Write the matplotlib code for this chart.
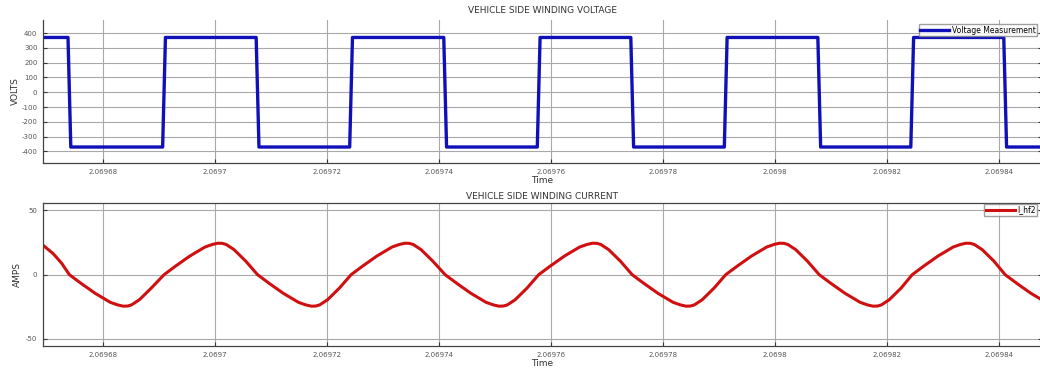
import numpy as np
import matplotlib
matplotlib.use("Agg")
import matplotlib.pyplot as plt

plt.rcParams["axes.unicode_minus"] = False

# time offsets in microseconds from t0
t0 = 2.06968
x_ticks = [2.06968, 2.0697, 2.06972, 2.06974, 2.06976, 2.06978, 2.0698, 2.06982, 2.06984]
x_tick_labels = ["2.06968", "2.0697", "2.06972", "2.06974", "2.06976", "2.06978", "2.0698", "2.06982", "2.06984"]

# voltage: switching instants (us) and levels (V)
v_edges_us = [-6.0, 10.9, 27.6, 44.3, 61.1, 77.8, 94.5, 111.2, 127.9, 144.5, 161.1]
v_high = 370
v_low = -370
v_start = v_high  # level before the first edge

# current samples (us, A)
i_t_us = [-10.7, -8.9, -7.4, -6.0,
          -4.0, -1.4, 1.3, 2.6, 3.6, 4.4, 5.1, 6.5, 8.6,
          10.9, 12.9, 15.5, 18.2, 19.5, 20.5, 21.3, 22.0, 23.4, 25.5,
          27.6, 29.6, 32.2, 34.9, 36.2, 37.2, 38.0, 38.7, 40.1, 42.2,
          44.3, 46.3, 48.9, 51.6, 52.9, 53.9, 54.7, 55.4, 56.8, 58.9,
          61.1, 63.1, 65.7, 68.4, 69.7, 70.7, 71.5, 72.2, 73.6, 75.7,
          77.8, 79.8, 82.4, 85.1, 86.4, 87.4, 88.2, 88.9, 90.3, 92.4,
          94.5, 96.5, 99.1, 101.8, 103.1, 104.1, 104.9, 105.6, 107.0, 109.1,
          111.2, 113.2, 115.8, 118.5, 119.8, 120.8, 121.6, 122.3, 123.7, 125.8,
          127.9, 129.9, 132.5, 135.2, 136.5, 137.5, 138.3, 139.0, 140.4, 142.5,
          144.5, 146.5, 149.1, 151.8, 153.1, 154.1, 154.9, 155.6, 157.0, 159.1,
          161.1, 163.1, 165.7, 168.4]
i_vals = [22.9, 16.4, 9.0, 0.0,
          -6.5, -14.5, -21.5, -23.5, -24.5, -24.4, -23.5, -19.5, -10.5,
          0.0, 6.5, 14.5, 21.5, 23.5, 24.5, 24.4, 23.5, 19.5, 10.5,
          0.0, -6.5, -14.5, -21.5, -23.5, -24.5, -24.4, -23.5, -19.5, -10.5,
          0.0, 6.5, 14.5, 21.5, 23.5, 24.5, 24.4, 23.5, 19.5, 10.5,
          0.0, -6.5, -14.5, -21.5, -23.5, -24.5, -24.4, -23.5, -19.5, -10.5,
          0.0, 6.5, 14.5, 21.5, 23.5, 24.5, 24.4, 23.5, 19.5, 10.5,
          0.0, -6.5, -14.5, -21.5, -23.5, -24.5, -24.4, -23.5, -19.5, -10.5,
          0.0, 6.5, 14.5, 21.5, 23.5, 24.5, 24.4, 23.5, 19.5, 10.5,
          0.0, -6.5, -14.5, -21.5, -23.5, -24.5, -24.4, -23.5, -19.5, -10.5,
          0.0, 6.5, 14.5, 21.5, 23.5, 24.5, 24.4, 23.5, 19.5, 10.5,
          0.0, -6.5, -14.5, -21.5]

# build the square wave polyline from the edges
ramp = 0.25
vt = [-12.0]
vv = [v_start]
level = v_start
for e in v_edges_us:
    vt += [e - ramp]
    vv += [level]
    level = v_low if level == v_high else v_high
    vt += [e + ramp]
    vv += [level]
vt.append(170.0)
vv.append(level)
vt = t0 + np.array(vt) * 1e-6
it = t0 + np.array(i_t_us) * 1e-6

W, H = 1040, 369
fig = plt.figure(figsize=(W / 100, H / 100), dpi=100)
left_px, right_px = 43, 1042
xmin = t0 + (left_px - 103) * 0.17857e-6
xmax = t0 + (right_px - 103) * 0.17857e-6

ax1 = fig.add_axes([left_px / W, 1 - 163 / H, (right_px - left_px) / W, 143 / H])
ax2 = fig.add_axes([left_px / W, 1 - 346 / H, (right_px - left_px) / W, 143 / H])

tick_col = "#555555"
for ax in (ax1, ax2):
    ax.set_xlim(xmin, xmax)
    ax.set_xticks(x_ticks)
    ax.set_xticklabels(x_tick_labels)
    ax.grid(True, color="#a8a8a8", linewidth=0.8)
    ax.tick_params(direction="in", length=3, labelsize=5, colors="#333333",
                   labelcolor=tick_col, right=True, pad=4)
    for s in ax.spines.values():
        s.set_color("#444444")
        s.set_linewidth(0.9)
    ax.set_xlabel("Time", fontsize=6.5, color="#333333", labelpad=1)

ax1.plot(vt, vv, color="#1010b8", linewidth=2.4, label="Voltage Measurement")
ax1.set_ylim(-478, 488)
ax1.set_yticks(np.arange(-400, 401, 100))
ax1.set_ylabel("VOLTS", fontsize=6.5, color="#333333", labelpad=1)
ax1.spines["top"].set_visible(False)
ax1.set_title("VEHICLE SIDE WINDING VOLTAGE", fontsize=6.5, color="#333333", pad=5)
ax1.legend(loc="upper right", bbox_to_anchor=(1037 / W, 1 - 24 / H), bbox_transform=fig.transFigure,
           fontsize=5.5, frameon=True, fancybox=False, edgecolor="#888888", handlelength=3.8,
           borderpad=0.2, handletextpad=0.3, borderaxespad=0)

ax2.plot(it, i_vals, color="#d01010", linewidth=2.2, label="I_hf2",
         solid_joinstyle="round")
ax2.set_ylim(-55.5, 55.8)
ax2.set_yticks([-50, 0, 50])
ax2.set_ylabel("AMPS", fontsize=6.5, color="#333333", labelpad=3)
ax2.set_title("VEHICLE SIDE WINDING CURRENT", fontsize=6.5, color="#333333", pad=3)
ax2.legend(loc="upper right", bbox_to_anchor=(1037 / W, 1 - 204 / H), bbox_transform=fig.transFigure,
           fontsize=5.5, frameon=True, fancybox=False, edgecolor="#888888", handlelength=3.8,
           borderpad=0.2, handletextpad=0.3, borderaxespad=0)

fig.savefig("out.png", dpi=100)
